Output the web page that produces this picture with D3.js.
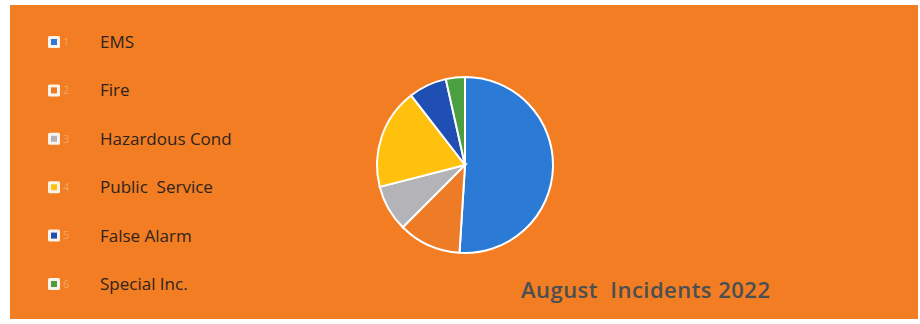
<!DOCTYPE html>
<html>
<head>
<meta charset="utf-8">
<script src="https://cdn.jsdelivr.net/npm/d3@7"></script>
<style>
  body { margin: 0; background: #fff; }
  svg { display: block; font-family: "Open Sans", "Lato", sans-serif; }
</style>
</head>
<body>
<svg width="920" height="324"></svg>
<script>
// incident types and their share
var categories = ["EMS", "Fire", "Hazardous Cond", "Public  Service", "False Alarm", "Special Inc."];
var codes = ["1", "2", "3", "4", "5", "6"];
var values = [51, 11.5, 8.5, 18.5, 7, 3.5];
var colors = ["#2b7bd6", "#ee7b26", "#b4b4b8", "#ffc10d", "#1f4fb2", "#4aa040"];
var title = "August  Incidents 2022";

var svg = d3.select("svg");

// orange card
svg.append("rect")
  .attr("x", 10).attr("y", 5)
  .attr("width", 908).attr("height", 314)
  .attr("fill", "#f27d22");

// legend
var rowY = d3.scalePoint().domain(d3.range(categories.length)).range([42, 284]);

var legend = svg.append("g");
var rows = legend.selectAll("g")
  .data(categories)
  .enter()
  .append("g")
    .attr("transform", function(d, i) { return "translate(0," + rowY(i) + ")"; });

rows.append("rect")
  .attr("x", 48).attr("y", -6)
  .attr("width", 12).attr("height", 12)
  .attr("rx", 1.5)
  .attr("fill", "#fbf3ea");

rows.append("rect")
  .attr("x", 51).attr("y", -3)
  .attr("width", 6).attr("height", 6)
  .attr("fill", function(d, i) { return colors[i]; });

rows.append("text")
  .attr("x", 63).attr("dy", "0.35em")
  .attr("font-size", 11)
  .attr("fill", "#f5a565")
  .text(function(d, i) { return codes[i]; });

rows.append("text")
  .attr("x", 100).attr("dy", "0.35em")
  .attr("font-size", 17)
  .attr("font-weight", 500)
  .attr("fill", "#2e231e")
  .style("white-space", "pre")
  .text(function(d) { return d; });

// pie
var pie = d3.pie().sort(null).value(function(d) { return d; });
var arc = d3.arc().innerRadius(0).outerRadius(88);

var pg = svg.append("g").attr("transform", "translate(465,165)");
pg.selectAll("path")
  .data(pie(values))
  .enter()
  .append("path")
    .attr("d", arc)
    .attr("fill", function(d, i) { return colors[i]; })
    .attr("stroke", "#ffffff")
    .attr("stroke-width", 2);

// title
svg.append("text")
  .attr("x", 521).attr("y", 298)
  .attr("font-size", 22)
  .attr("font-weight", 600)
  .attr("fill", "#4a4f52")
  .attr("textLength", 249)
  .attr("lengthAdjust", "spacing")
  .style("white-space", "pre")
  .text(title);
</script>
</body>
</html>
